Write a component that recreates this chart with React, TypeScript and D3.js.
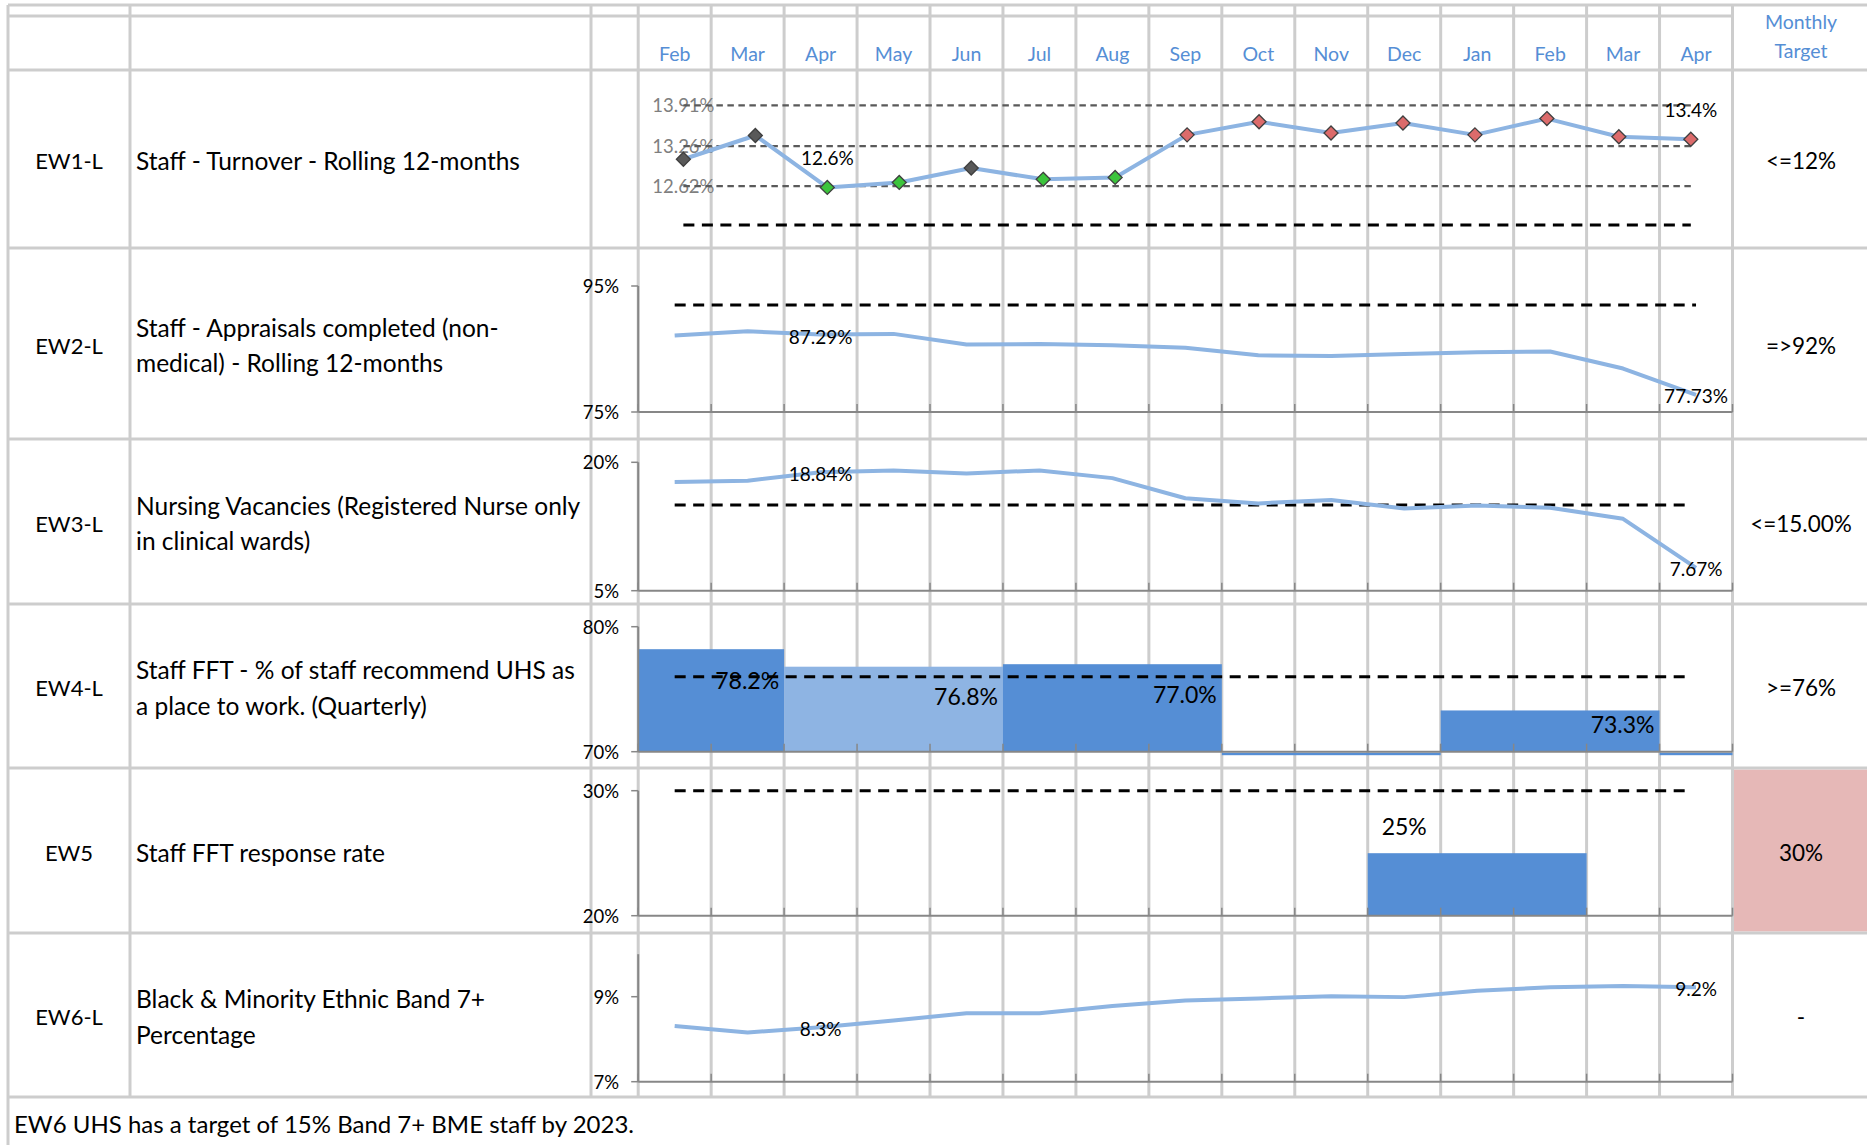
import React from "react";
import * as d3 from "d3";

// ---- data ----
const months = ["Feb", "Mar", "Apr", "May", "Jun", "Jul", "Aug", "Sep", "Oct", "Nov", "Dec", "Jan", "Feb", "Mar", "Apr"];

const codes = ["EW1-L", "EW2-L", "EW3-L", "EW4-L", "EW5", "EW6-L"];
const descriptions = [
  ["Staff - Turnover - Rolling 12-months"],
  ["Staff - Appraisals completed (non-", "medical) - Rolling 12-months"],
  ["Nursing Vacancies (Registered Nurse only", "in clinical wards)"],
  ["Staff FFT - % of staff recommend UHS as", "a place to work. (Quarterly)"],
  ["Staff FFT response rate"],
  ["Black & Minority Ethnic Band 7+", "Percentage"],
];
const targets = ["<=12%", "=>92%", "<=15.00%", ">=76%", "30%", "-"];

// EW1 staff turnover (rolling 12 months, %)
const turnover = [13.05, 13.43, 12.6, 12.68, 12.91, 12.73, 12.76, 13.44, 13.65, 13.47, 13.63, 13.44, 13.7, 13.41, 13.37];
const turnoverStatus = ["neutral", "neutral", "good", "good", "neutral", "good", "good", "bad", "bad", "bad", "bad", "bad", "bad", "bad", "bad"];
const turnoverLimits = [13.91, 13.26, 12.62];
const turnoverTarget = 12;

// EW2 appraisals completed (%)
const appraisals = [87.15, 87.8, 87.29, 87.4, 85.7, 85.8, 85.6, 85.2, 84.0, 83.9, 84.2, 84.5, 84.6, 81.9, 77.73];
const appraisalsTarget = 92;
const appraisalsTicks = [75, 95];

// EW3 nursing vacancies (%)
const vacancies = [17.7, 17.85, 18.84, 19.05, 18.7, 19.05, 18.15, 15.8, 15.2, 15.6, 14.6, 14.95, 14.7, 13.4, 7.67];
const vacanciesTarget = 15;
const vacanciesTicks = [5, 20];

// EW4 staff FFT recommend (quarterly)
const fftFirstMonth = [0, 2, 5, 8, 11, 14];
const fftMonthCount = [2, 3, 3, 3, 3, 1];
const fftValue: (number | null)[] = [78.2, 76.8, 77.0, null, 73.3, null];
const fftHighlight = [false, true, false, false, false, false];
const fftTarget = 76;
const fftTicks = [70, 80];

// EW5 staff FFT response rate
const responseFirstMonth = [10];
const responseMonthCount = [3];
const responseValue = [25];
const responseTarget = 30;
const responseTicks = [20, 30];

// EW6 BME band 7+ (%)
const bme = [8.31, 8.16, 8.28, 8.44, 8.61, 8.61, 8.78, 8.91, 8.96, 9.01, 8.99, 9.14, 9.22, 9.25, 9.22];
const bmeTicks = [7, 9];
const bmeMax = 10;

const footnote = "EW6 UHS has a target of 15% Band 7+ BME staff by 2023.";

// ---- layout ----
const W = 1867;
const H = 1145;
const FONT = "Lato, 'Open Sans', sans-serif";
const GRID = "#cdcdcd";
const AXIS = "#878787";
const BLUE_LINE = "#8db4e2";
const BAR_DARK = "#558ed5";
const BAR_LIGHT = "#8eb4e3";
const HEADER_BLUE = "#558ed5";
const plotLeft = 638.2;
const plotRight = 1732.5;
const rowEdges = [70, 248, 439, 604, 768, 933, 1097];
const colLines = [8, 130, 591];
const targetCenter = 1801;

const idx = d3.range(months.length);
const x = d3.scaleBand<number>().domain(idx).range([plotLeft, plotRight]);
const cx = (i: number) => (x(i) as number) + x.bandwidth() / 2;
// EW1 chart sits in a slightly narrower plot area
const xT = d3.scaleBand<number>().domain(idx).range([647.4, 1726.8]);
const cxT = (i: number) => (xT(i) as number) + xT.bandwidth() / 2;

const yTurn = d3.scaleLinear().domain([12, 14]).range([225, 99.8]);
const yApp = d3.scaleLinear().domain([75, 95]).range([412, 286]);
const yVac = d3.scaleLinear().domain([5, 20]).range([590.7, 462.3]);
const yFft = d3.scaleLinear().domain([70, 80]).range([751.7, 626.7]);
const yResp = d3.scaleLinear().domain([20, 30]).range([915.7, 790.7]);
const yBme = d3.scaleLinear().domain([7, 10]).range([1081.7, 954.2]);

const markerFill: Record<string, string> = { neutral: "#595959", good: "#3cc43c", bad: "#dc6b6b" };

function Axes({ y, ticks, top }: { y: d3.ScaleLinear<number, number>; ticks: number[]; top: number }) {
  const base = y(ticks[0]);
  return (
    <g>
      <line x1={plotLeft} x2={plotLeft} y1={y(top)} y2={base} stroke={AXIS} strokeWidth={2} />
      {ticks.map((t) => (
        <g key={t}>
          <line x1={plotLeft - 7} x2={plotLeft} y1={y(t)} y2={y(t)} stroke={AXIS} strokeWidth={1.5} />
          <text x={619} y={y(t)} textAnchor="end" dominantBaseline="central" fontSize={18.5} fill="#000">
            {`${t}%`}
          </text>
        </g>
      ))}
      <line x1={plotLeft} x2={plotRight} y1={base} y2={base} stroke={AXIS} strokeWidth={2} />
      {d3.range(months.length + 1).map((k) => {
        const xx = plotLeft + k * x.step();
        return <line key={k} x1={xx} x2={xx} y1={base - 8} y2={base} stroke={AXIS} strokeWidth={1.5} />;
      })}
    </g>
  );
}

function TargetLine({ y, v, x1, x2 }: { y: d3.ScaleLinear<number, number>; v: number; x1: number; x2: number }) {
  return <line x1={x1} x2={x2} y1={y(v)} y2={y(v)} stroke="#000" strokeWidth={3} strokeDasharray="11 7.5" />;
}

function SeriesLine({ values, y }: { values: number[]; y: d3.ScaleLinear<number, number> }) {
  const path = d3
    .line<number>()
    .x((_, i) => cx(i))
    .y((v) => y(v))(values);
  return <path d={path || ""} fill="none" stroke={BLUE_LINE} strokeWidth={4} strokeLinejoin="round" />;
}

function PointLabel({ i, v, y, digits, dy = 1.5 }: { i: number; v: number; y: d3.ScaleLinear<number, number>; digits: number; dy?: number }) {
  return (
    <text x={cx(i)} y={y(v) + dy} textAnchor="middle" dominantBaseline="central" fontSize={19} fill="#000">
      {`${v.toFixed(digits)}%`}
    </text>
  );
}

export default function App() {
  const last = months.length - 1;
  const turnPath = d3
    .line<number>()
    .x((_, i) => cxT(i))
    .y((v) => yTurn(v))(turnover);
  const diamond = (s: number) => `M0,${-s}L${s},0L0,${s}L${-s},0Z`;
  const vLines = [...colLines, ...d3.range(months.length + 1).map((k) => plotLeft + k * x.step())];

  return (
    <svg
      width={W}
      height={H}
      viewBox={`0 0 ${W} ${H}`}
      style={{ position: "absolute", left: 0, top: 0, display: "block", background: "#fff" }}
      fontFamily={FONT}
    >
      <rect x={0} y={0} width={W} height={H} fill="#fff" />

      {/* EW5 target cell highlight */}
      <rect x={plotRight + 1} y={rowEdges[4] + 1.5} width={W - plotRight} height={rowEdges[5] - rowEdges[4] - 3} fill="#e6b8b7" />

      {/* table grid */}
      <g stroke={GRID} strokeWidth={3}>
        <line x1={8} x2={W} y1={5} y2={5} />
        <line x1={8} x2={plotRight} y1={16} y2={16} />
        {rowEdges.map((r) => (
          <line key={r} x1={8} x2={W} y1={r} y2={r} />
        ))}
        {vLines.map((v, k) => (
          <line key={k} x1={v} x2={v} y1={5} y2={rowEdges[rowEdges.length - 1]} />
        ))}
        <line x1={8} x2={8} y1={rowEdges[rowEdges.length - 1]} y2={H} />
      </g>

      {/* header */}
      {months.map((m, i) => (
        <text key={i} x={cx(i)} y={53} textAnchor="middle" dominantBaseline="central" fontSize={19.5} fill={HEADER_BLUE}>
          {m}
        </text>
      ))}
      <text x={targetCenter} y={21} textAnchor="middle" dominantBaseline="central" fontSize={19.5} fill={HEADER_BLUE}>
        Monthly
      </text>
      <text x={targetCenter} y={50} textAnchor="middle" dominantBaseline="central" fontSize={19.5} fill={HEADER_BLUE}>
        Target
      </text>

      {/* row labels */}
      {codes.map((c, r) => {
        const mid = (rowEdges[r] + rowEdges[r + 1]) / 2 + 1.5;
        const lines = descriptions[r];
        const lh = 35.5;
        return (
          <g key={c}>
            <text x={69} y={mid} textAnchor="middle" dominantBaseline="central" fontSize={22} fill="#000">
              {c}
            </text>
            {lines.map((l, j) => (
              <text key={j} x={136} y={mid + (j - (lines.length - 1) / 2) * lh} dominantBaseline="central" fontSize={24.5} fill="#000">
                {l}
              </text>
            ))}
            <text x={targetCenter} y={mid} textAnchor="middle" dominantBaseline="central" fontSize={22.5} fill="#000">
              {targets[r]}
            </text>
          </g>
        );
      })}

      {/* EW1 turnover with control limits */}
      <g>
        {turnoverLimits.map((v) => (
          <text key={`l${v}`} x={cxT(0)} y={yTurn(v)} textAnchor="middle" dominantBaseline="central" fontSize={18.5} fill="#7f7f7f">
            {`${v.toFixed(2)}%`}
          </text>
        ))}
        {turnoverLimits.map((v) => (
          <line key={v} x1={cxT(0)} x2={cxT(last)} y1={yTurn(v)} y2={yTurn(v)} stroke="#5a5a5a" strokeWidth={2.2} strokeDasharray="6.5 4.5" />
        ))}
        <line x1={cxT(0)} x2={cxT(last)} y1={yTurn(turnoverTarget)} y2={yTurn(turnoverTarget)} stroke="#000" strokeWidth={3} strokeDasharray="11 7.5" />
        <path d={turnPath || ""} fill="none" stroke={BLUE_LINE} strokeWidth={4} strokeLinejoin="round" />
        {turnover.map((v, i) => (
          <path
            key={i}
            d={diamond(7)}
            transform={`translate(${cxT(i)},${yTurn(v)})`}
            fill={markerFill[turnoverStatus[i]]}
            stroke="#3f3f3f"
            strokeWidth={1.3}
          />
        ))}
        {[2, last].map((i) => (
          <text key={i} x={cxT(i)} y={yTurn(turnover[i]) - 30} textAnchor="middle" dominantBaseline="central" fontSize={19} fill="#000">
            {`${turnover[i].toFixed(1)}%`}
          </text>
        ))}
      </g>

      {/* EW2 appraisals */}
      <g>
        <Axes y={yApp} ticks={appraisalsTicks} top={95} />
        <TargetLine y={yApp} v={appraisalsTarget} x1={cx(0)} x2={cx(last)} />
        <SeriesLine values={appraisals} y={yApp} />
        <PointLabel i={2} v={appraisals[2]} y={yApp} digits={2} />
        <PointLabel i={last} v={appraisals[last]} y={yApp} digits={2} dy={0.5} />
      </g>

      {/* EW3 vacancies */}
      <g>
        <Axes y={yVac} ticks={vacanciesTicks} top={20} />
        <TargetLine y={yVac} v={vacanciesTarget} x1={cx(0)} x2={cx(last) - 8} />
        <SeriesLine values={vacancies} y={yVac} />
        <PointLabel i={2} v={vacancies[2]} y={yVac} digits={2} />
        <PointLabel i={last} v={vacancies[last]} y={yVac} digits={2} dy={0.5} />
      </g>

      {/* EW4 staff FFT recommend */}
      <g>
        {fftValue.map((v, q) => {
          const x0 = plotLeft + fftFirstMonth[q] * x.step();
          const w = fftMonthCount[q] * x.step();
          const base = yFft(fftTicks[0]);
          if (v === null) {
            return <rect key={q} x={x0} y={base + 1} width={w} height={2.5} fill={BAR_DARK} />;
          }
          return <rect key={q} x={x0} y={yFft(v)} width={w} height={base - yFft(v)} fill={fftHighlight[q] ? BAR_LIGHT : BAR_DARK} />;
        })}
        <Axes y={yFft} ticks={fftTicks} top={80} />
        {fftValue.map((v, q) => {
          if (v === null) return null;
          const x1 = plotLeft + (fftFirstMonth[q] + fftMonthCount[q]) * x.step();
          const h = yFft(fftTicks[0]) - yFft(v);
          return (
            <text key={q} x={x1 - 5} y={yFft(v) + Math.min(31, h * 0.34)} textAnchor="end" dominantBaseline="central" fontSize={23} fill="#000">
              {`${v.toFixed(1)}%`}
            </text>
          );
        })}
        <TargetLine y={yFft} v={fftTarget} x1={cx(0)} x2={cx(last) - 8} />
      </g>

      {/* EW5 response rate */}
      <g>
        {responseValue.map((v, q) => {
          const x0 = plotLeft + responseFirstMonth[q] * x.step();
          const w = responseMonthCount[q] * x.step();
          return <rect key={q} x={x0} y={yResp(v)} width={w} height={yResp(responseTicks[0]) - yResp(v)} fill={BAR_DARK} />;
        })}
        <Axes y={yResp} ticks={responseTicks} top={30} />
        {responseValue.map((v, q) => (
          <text key={q} x={cx(responseFirstMonth[q])} y={yResp(v) - 27} textAnchor="middle" dominantBaseline="central" fontSize={23} fill="#000">
            {`${v}%`}
          </text>
        ))}
        <TargetLine y={yResp} v={responseTarget} x1={cx(0)} x2={cx(last) - 8} />
      </g>

      {/* EW6 BME band 7+ */}
      <g>
        <Axes y={yBme} ticks={bmeTicks} top={bmeMax} />
        <SeriesLine values={bme} y={yBme} />
        <PointLabel i={2} v={bme[2]} y={yBme} digits={1} />
        <PointLabel i={last} v={bme[last]} y={yBme} digits={1} />
      </g>

      <text x={14} y={1123} dominantBaseline="central" fontSize={24} fill="#000">
        {footnote}
      </text>
    </svg>
  );
}
